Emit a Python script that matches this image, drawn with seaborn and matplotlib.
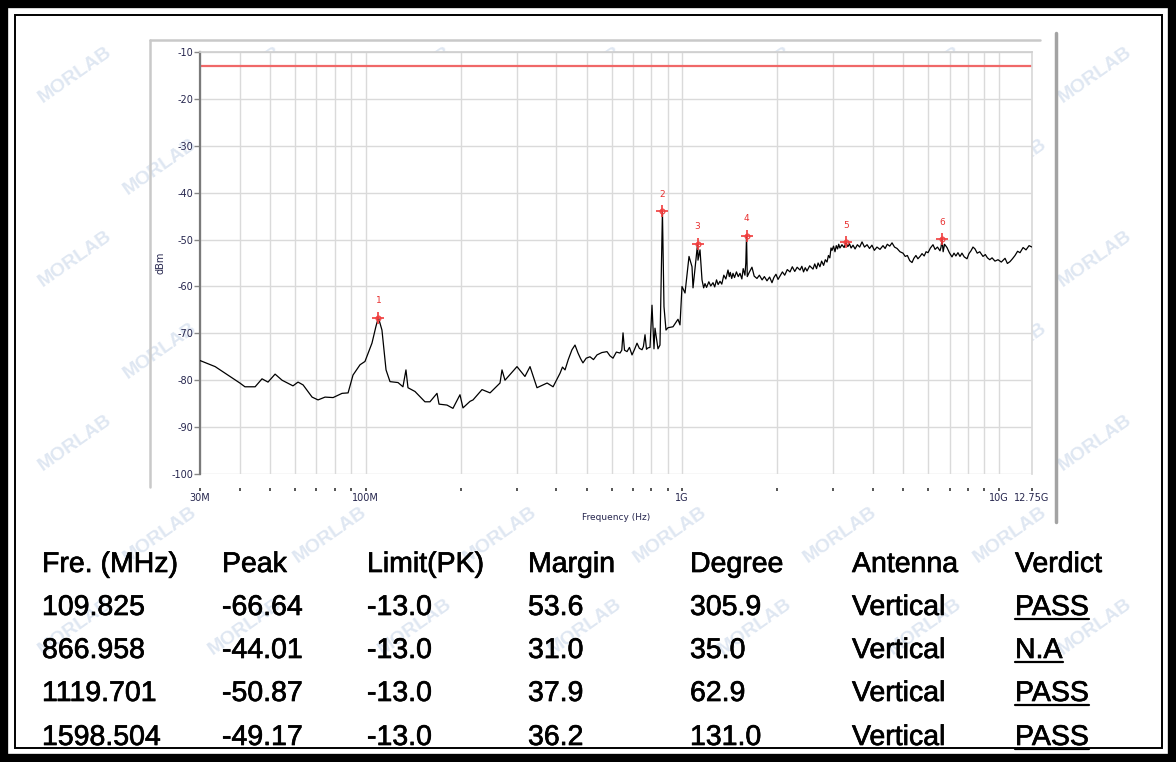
import matplotlib
matplotlib.use("Agg")
import matplotlib.pyplot as plt
import matplotlib.ticker as mticker
import matplotlib.patheffects as pe
from matplotlib.patches import Rectangle
from matplotlib.lines import Line2D
import seaborn as sns

sns.set_theme(style="white")
plt.rcParams['font.family'] = ['Liberation Sans', 'DejaVu Sans']
plt.rcParams['axes.unicode_minus'] = False

# spectrum trace (MHz, dBm)
freq_mhz = [30.0, 33.5, 37.3, 40.1, 41.6, 44.8, 47.1, 49.2, 51.8, 54.5, 59.0, 61.2, 63.5,
            67.8, 70.8, 74.5, 79.0, 84.3, 88.1, 91.3, 96.1, 99.6, 104.8, 107.9, 109.825,
            112.7, 116.1, 119.5, 126.7, 131.3, 134.2, 136.2, 143.3, 154.1, 159.8, 168.2,
            170.7, 180.9, 188.9, 198.8, 203.2, 213.9, 218.6, 233.4, 247.4, 266.0, 269.9,
            275.8, 301.0, 318.9, 330.9, 348.1, 374.7, 391.3, 411.7, 419.0, 426.9, 437.0,
            449.0, 459.0, 469.1, 478.0, 486.3, 498.0, 511.8, 525.0, 538.7, 558.0, 579.3,
            592.0, 605.1, 620.0, 636.8, 645.0, 650.9, 658.0, 670.1, 682.0, 694.9, 708.0,
            720.6, 733.0, 747.4, 755.0, 763.8, 772.0, 780.6, 792.0, 803.6, 815.3, 821.3,
            839.4, 851.6, 866.958, 876.8, 889.7, 902.8, 936.2, 970.8, 985.1, 999.6,
            1021.8, 1051.9, 1075.1, 1082.9, 1119.701, 1122.9, 1139.5, 1156.2, 1170.0,
            1181.6, 1195.0, 1215.0, 1232.0, 1252.4, 1268.0, 1285.0, 1300.0, 1317.8,
            1335.0, 1355.0, 1375.0, 1396.8, 1410.0, 1420.0, 1435.0, 1448.5, 1465.0,
            1485.0, 1505.0, 1524.2, 1545.0, 1560.0, 1580.0, 1590.0, 1598.504, 1607.0,
            1630.0, 1662.7, 1690.0, 1724.4, 1755.0, 1790.0, 1820.0, 1854.8, 1890.0,
            1923.5, 1950.0, 1980.0, 2010.0, 2038.8, 2075.0, 2110.0, 2150.0, 2192.7,
            2230.0, 2270.0, 2310.0, 2358.5, 2390.0, 2420.0, 2450.0, 2481.7, 2530.0,
            2591.9, 2625.0, 2660.0, 2690.0, 2726.2, 2760.0, 2800.0, 2835.0, 2870.3,
            2900.0, 2930.0, 2955.0, 2976.7, 3010.0, 3041.9, 3070.0, 3100.0, 3125.0,
            3153.0, 3200.0, 3250.0, 3297.0, 3340.0, 3380.0, 3420.0, 3468.0, 3520.0,
            3580.0, 3640.0, 3703.0, 3770.0, 3841.0, 3910.0, 3980.0, 4050.0, 4128.0,
            4220.0, 4313.0, 4380.0, 4450.0, 4530.0, 4606.0, 4690.0, 4777.0, 4880.0,
            4989.0, 5070.0, 5150.0, 5240.0, 5327.0, 5400.0, 5480.0, 5560.0, 5646.0,
            5730.0, 5820.0, 5900.0, 5983.0, 6090.0, 6205.0, 6300.0, 6410.0, 6529.0,
            6580.0, 6627.0, 6680.0, 6750.0, 6870.0, 6990.0, 7125.0, 7230.0, 7330.0,
            7440.0, 7551.0, 7660.0, 7790.0, 7947.0, 8060.0, 8180.0, 8300.0, 8423.0,
            8560.0, 8720.0, 8927.0, 9080.0, 9220.0, 9380.0, 9535.0, 9740.0, 9957.0,
            10200.0, 10479.0, 10660.0, 10866.0, 11060.0, 11268.0, 11480.0, 11684.0,
            11950.0, 12206.0, 12480.0, 12750.0]
level_dbm = [-75.8, -77.1, -79.2, -80.6, -81.4, -81.4, -79.7, -80.4, -78.7, -80.0, -81.2, -80.4, -81.0,
             -83.6, -84.2, -83.6, -83.7, -82.8, -82.7, -78.9, -76.7, -76.0, -72.1, -68.5, -66.64,
             -69.3, -77.8, -80.3, -80.5, -81.4, -77.8, -81.6, -82.4, -84.6, -84.6, -82.8,
             -85.1, -85.3, -86.0, -83.1, -85.9, -84.5, -84.2, -82.0, -82.7, -80.6, -77.8,
             -80.0, -77.1, -79.2, -77.1, -81.6, -80.6, -81.4, -78.5, -77.2, -77.8, -75.6,
             -73.5, -72.5, -74.2, -75.4, -76.3, -75.3, -75.0, -75.6, -74.6, -74.1, -73.9,
             -74.8, -75.3, -74.0, -74.2, -73.6, -69.9, -73.6, -73.9, -73.0, -74.6, -73.4,
             -72.1, -73.2, -73.5, -72.8, -70.3, -73.4, -73.1, -73.0, -64.0, -73.3, -68.9,
             -73.3, -72.5, -44.01, -64.3, -69.3, -68.8, -68.6, -67.0, -68.2, -60.0,
             -61.4, -53.6, -55.8, -60.3, -50.87, -54.4, -52.2, -58.6, -60.3,
             -59.4, -60.2, -59.0, -59.9, -59.2, -60.1, -58.6, -59.6, -58.9,
             -59.5, -57.6, -58.4, -56.5, -57.9, -57.0, -58.3, -57.2, -58.1,
             -56.9, -57.9, -57.2, -58.4, -56.2, -57.6, -55.0, -49.17, -57.9,
             -57.0, -55.9, -57.8, -58.3, -57.6, -58.6, -57.9, -58.8, -58.0,
             -59.2, -58.1, -57.4, -58.5, -57.8, -56.9, -57.6, -56.4, -56.9,
             -55.8, -56.8, -55.9, -56.5, -55.7, -56.9, -56.0, -56.7, -55.6,
             -56.3, -55.2, -56.2, -55.0, -55.8, -54.6, -55.5, -54.3, -54.8,
             -53.4, -53.9, -51.8, -52.3, -51.4, -52.6, -51.3, -52.0, -51.0,
             -51.8, -51.1, -51.7, -50.6, -51.5, -50.9, -51.8, -51.2, -52.0,
             -51.1, -51.6, -50.5, -51.6, -51.1, -51.9, -51.2, -52.3, -51.6,
             -52.1, -51.3, -51.9, -51.0, -51.4, -50.7, -51.6, -51.9, -52.6,
             -52.9, -53.6, -53.4, -54.5, -54.9, -54.0, -53.4, -54.1, -53.6,
             -53.0, -53.5, -52.6, -52.8, -51.8, -51.1, -52.1, -51.6, -52.4,
             -51.6, -49.9, -52.6, -51.0, -51.7, -52.8, -53.7, -52.9, -53.5,
             -52.8, -53.6, -52.9, -53.7, -54.1, -53.0, -52.4, -51.6, -52.0,
             -52.9, -52.6, -53.6, -53.2, -53.9, -54.3, -53.9, -54.6, -54.3,
             -54.8, -54.0, -55.1, -54.7, -54.1, -53.4, -52.5, -52.8,
             -51.7, -52.2, -51.3, -51.6]

marker_ids = ['1', '2', '3', '4', '5', '6']
marker_freq_mhz = [109.825, 866.958, 1119.701, 1598.504, 3297.0, 6627.0]
marker_level = [-66.64, -44.01, -50.87, -49.17, -50.6, -49.9]
limit_dbm = -13.0

y_ticks = [-10, -20, -30, -40, -50, -60, -70, -80, -90, -100]
x_major_hz = [30e6, 100e6, 1e9, 10e9, 12.75e9]
x_major_labels = ['30M', '100M', '1G', '10G', '12.75G']
x_minor_hz = [40e6, 50e6, 60e6, 70e6, 80e6, 90e6,
              200e6, 300e6, 400e6, 500e6, 600e6, 700e6, 800e6, 900e6,
              2e9, 3e9, 4e9, 5e9, 6e9, 7e9, 8e9, 9e9]

table_header = ['Fre. (MHz)', 'Peak', 'Limit(PK)', 'Margin', 'Degree', 'Antenna', 'Verdict']
col_freq = ['109.825', '866.958', '1119.701', '1598.504']
col_peak = ['-66.64', '-44.01', '-50.87', '-49.17']
col_limit = ['-13.0', '-13.0', '-13.0', '-13.0']
col_margin = ['53.6', '31.0', '37.9', '36.2']
col_degree = ['305.9', '35.0', '62.9', '131.0']
col_antenna = ['Vertical', 'Vertical', 'Vertical', 'Vertical']
col_verdict = ['PASS', 'N.A', 'PASS', 'PASS']

W, H = 1176, 762
fig = plt.figure(figsize=(W / 100, H / 100), dpi=100)
fig.patch.set_facecolor('white')

# faint watermark, kept behind the plot panel
for r in range(8):
    for c in range(7):
        x = c * 170 + (r % 2) * 85 + 75
        y = r * 92 + 75
        if x > 1100 or y > 715:
            continue
        fig.text(x / W, 1 - y / H, 'MORLAB', rotation=35, fontsize=14, fontweight='bold',
                 color='#dfe7f2', ha='center', va='center', zorder=-5)

# embedded screenshot frame
fig.add_artist(Line2D([150 / W, 150 / W], [1 - 40 / H, 1 - 487 / H], color='#c9c9c9', lw=1.8))
fig.add_artist(Line2D([150 / W, 1040 / W], [1 - 40 / H, 1 - 40 / H], color='#c9c9c9', lw=1.8))
fig.add_artist(Line2D([1056 / W, 1056 / W], [1 - 33 / H, 1 - 522 / H], color='#a3a3a3', lw=2.5))

ax = fig.add_axes([200 / W, 1 - 474 / H, 832 / W, 422 / H])
ax.set_facecolor('white')

freq_hz = [f * 1e6 for f in freq_mhz]
sns.lineplot(x=freq_hz, y=level_dbm, ax=ax, color='black', lw=0.9, estimator=None, zorder=3)
ax.axhline(limit_dbm, color='#f06868', lw=1.6, zorder=2)

mk_hz = [f * 1e6 for f in marker_freq_mhz]
ax.plot(mk_hz, marker_level, ls='none', marker='+', ms=9, mew=1.2, color='#f03c3c', zorder=4)
ax.plot(mk_hz, marker_level, ls='none', marker='o', ms=3.5, mew=0.8, mfc='none', mec='#f03c3c', zorder=4)
for lab, fx, ly in zip(marker_ids, mk_hz, marker_level):
    ax.annotate(lab, (fx, ly), xytext=(0, 9), textcoords='offset points', ha='center',
                va='bottom', fontsize=6.5, color='#e83030', family='DejaVu Sans')

ax.set_xscale('log')
ax.set_xlim(30e6, 12.75e9)
ax.set_ylim(-100, -10)
ax.xaxis.set_major_locator(mticker.FixedLocator(x_major_hz))
ax.xaxis.set_major_formatter(mticker.FixedFormatter(x_major_labels))
ax.xaxis.set_minor_locator(mticker.FixedLocator(x_minor_hz))
ax.xaxis.set_minor_formatter(mticker.NullFormatter())
ax.set_yticks(y_ticks)

ax.grid(True, which='both', axis='x', color='#dadada', lw=1)
ax.grid(True, which='major', axis='y', color='#dadada', lw=1)
ax.set_axisbelow(True)

ax.spines['bottom'].set_position(('outward', 10))
ax.spines['bottom'].set_visible(False)
ax.spines['left'].set_color('#7a7a7a')
ax.spines['left'].set_linewidth(1.6)
ax.spines['top'].set_color('#cfcfcf')
ax.spines['right'].set_color('#dadada')

ax.tick_params(axis='x', which='both', bottom=True, direction='out', length=2, width=1.4,
               color='#555555', labelsize=7, labelcolor='#26264e', pad=2)
ax.tick_params(axis='y', left=True, direction='out', length=4, width=1, color='#888888',
               labelsize=7, labelcolor='#26264e', pad=1)
for t in ax.get_xticklabels() + ax.get_yticklabels():
    t.set_family('DejaVu Sans')

ax.set_xlabel('Frequency (Hz)', fontsize=6.5, color='#26264e', family='DejaVu Sans')
ax.set_ylabel('dBm', fontsize=7, color='#26264e', family='DejaVu Sans')
ax.xaxis.set_label_coords(0.5, (474 - 513) / 422)
ax.yaxis.set_label_coords((166 - 200) / 832, 0.5)

# results table
col_x = [42, 222, 367, 528, 690, 852, 1015]
row_y = [572, 615, 658, 701, 745]
columns = [col_freq, col_peak, col_limit, col_margin, col_degree, col_antenna, col_verdict]
heavy = [pe.withStroke(linewidth=0.5, foreground='black')]
verdict_texts = []
for ci, (cx, head) in enumerate(zip(col_x, table_header)):
    fig.text(cx / W, 1 - row_y[0] / H, head, fontsize=20.5, color='black',
             ha='left', va='baseline', path_effects=heavy)
    for ri, val in enumerate(columns[ci]):
        t = fig.text(cx / W, 1 - row_y[ri + 1] / H, val, fontsize=20.5, color='black',
                     ha='left', va='baseline', path_effects=heavy)
        if ci == 6:
            verdict_texts.append((t, row_y[ri + 1]))

# outer double border
fig.add_artist(Rectangle((4 / W, 4 / H), (W - 8) / W, (H - 8) / H, transform=fig.transFigure,
                         fill=False, edgecolor='black', lw=6))
fig.add_artist(Rectangle((14.5 / W, 14.5 / H), (W - 29) / W, (H - 29) / H, transform=fig.transFigure,
                         fill=False, edgecolor='black', lw=1.4))

fig.canvas.draw()
renderer = fig.canvas.get_renderer()
for t, by in verdict_texts:
    bb = t.get_window_extent(renderer)
    yy = 1 - (by + 4) / H
    fig.add_artist(Line2D([bb.x0 / W, bb.x1 / W], [yy, yy], color='black', lw=1.6))

fig.savefig('out.png', dpi=100)
